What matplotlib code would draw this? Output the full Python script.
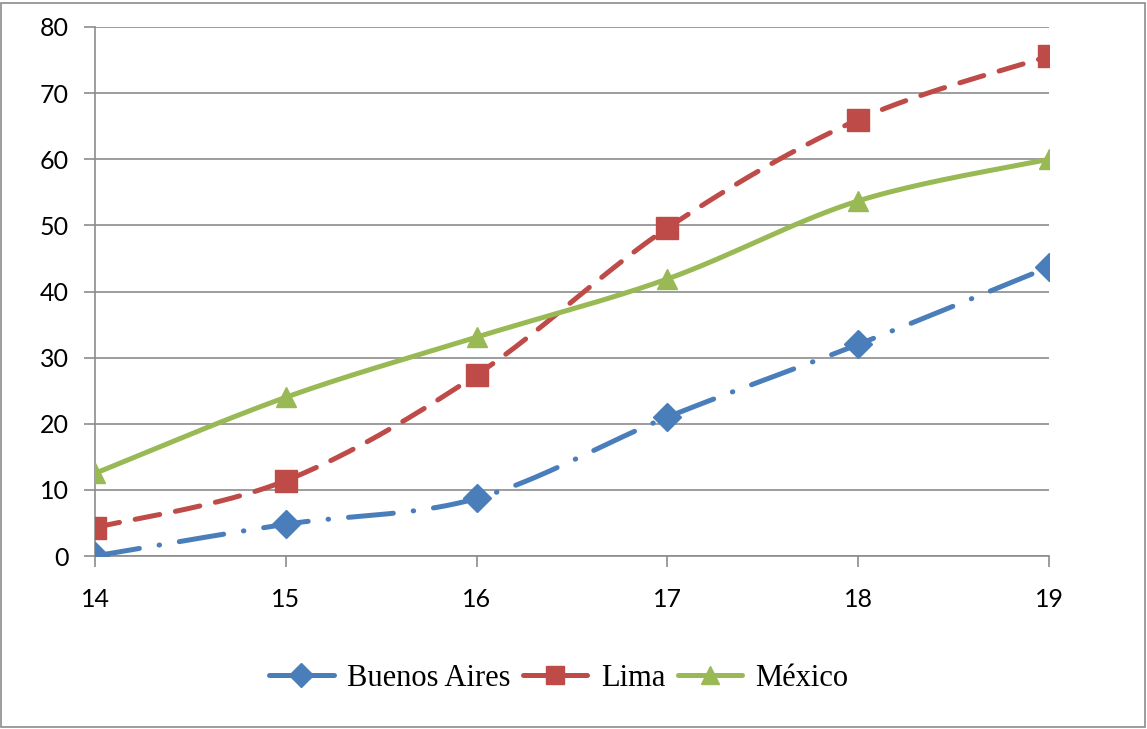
import matplotlib
matplotlib.use("Agg")
import matplotlib.pyplot as plt
import numpy as np
from matplotlib.patches import Rectangle

edades = [14, 15, 16, 17, 18, 19]
buenos_aires = [0.0, 4.8, 8.7, 21.0, 32.0, 43.7]
lima = [4.3, 11.4, 27.4, 49.6, 66.0, 75.6]
mexico = [12.5, 24.0, 33.1, 41.9, 53.7, 60.0]

yticks = [0, 10, 20, 30, 40, 50, 60, 70, 80]


def suavizar(x, y, n=40):
    # curva tipo Bezier (Catmull-Rom) que pasa por los puntos
    x = np.asarray(x, float)
    y = np.asarray(y, float)
    px = np.concatenate([[x[0]], x, [x[-1]]])
    py = np.concatenate([[y[0]], y, [y[-1]]])
    xs, ys = [], []
    t = np.linspace(0, 1, n)
    for i in range(1, len(px) - 2):
        p0 = np.array([px[i], py[i]])
        p3 = np.array([px[i + 1], py[i + 1]])
        c1 = p0 + (p3 - np.array([px[i - 1], py[i - 1]])) / 6
        c2 = p3 - (np.array([px[i + 2], py[i + 2]]) - p0) / 6
        b = (np.outer((1 - t) ** 3, p0) + np.outer(3 * (1 - t) ** 2 * t, c1)
             + np.outer(3 * (1 - t) * t ** 2, c2) + np.outer(t ** 3, p3))
        if i > 1:
            b = b[1:]
        xs.extend(b[:, 0])
        ys.extend(b[:, 1])
    return xs, ys


fig = plt.figure(figsize=(11.47, 7.29), dpi=100)
ax = fig.add_axes([95 / 1147, 1 - 556 / 729, (1049 - 95) / 1147, (556 - 27) / 729])

fig.patches.append(Rectangle((1 / 1147, 2 / 729), 1144 / 1147, 724 / 729,
                             transform=fig.transFigure, fill=False,
                             edgecolor="#8c8c8c", linewidth=1.2))

series = [
    ("Buenos Aires", buenos_aires, "#4a7ebb", "D", 14, (0, (9, 4, 0.1, 4))),
    ("Lima", lima, "#be4b48", "s", 15.5, (0, (5, 3.2))),
    ("México", mexico, "#98b954", "^", 15, "-"),
]

for nombre, valores, color, marca, tam, estilo in series:
    sx, sy = suavizar(edades, valores)
    ax.plot(sx, sy, color=color, linewidth=3.6, linestyle=estilo,
            solid_capstyle="round", dash_capstyle="round", zorder=3)
    ax.plot(edades, valores, linestyle="none", marker=marca, markersize=tam,
            color=color, zorder=4)

# entradas de la leyenda: línea con la marca en el centro
handles = []
for nombre, valores, color, marca, tam, estilo in series:
    h, = ax.plot([], [], color=color, linewidth=3.6, linestyle="-",
                 solid_capstyle="round", marker=marca, markersize=tam * 0.85)
    handles.append(h)

ax.set_xlim(14, 19)
ax.set_ylim(0, 80)
ax.set_xticks(edades)
ax.set_yticks(yticks)
ax.grid(axis="y", color="#8c8c8c", linewidth=1.2)
ax.set_axisbelow(True)
for lado in ["top", "right"]:
    ax.spines[lado].set_visible(False)
for lado in ["left", "bottom"]:
    ax.spines[lado].set_color("#8c8c8c")
    ax.spines[lado].set_linewidth(1.2)
ax.tick_params(axis="y", length=8, width=1.2, color="#8c8c8c", pad=11,
               labelsize=18, labelcolor="black")
ax.tick_params(axis="x", length=8, width=1.2, color="#8c8c8c", pad=15,
               labelsize=18, labelcolor="black")
for lab in ax.get_xticklabels() + ax.get_yticklabels():
    lab.set_fontfamily("Lato")

leg = fig.legend(handles=handles, labels=[s[0] for s in series],
                 loc="center", bbox_to_anchor=(559 / 1147, 1 - 678 / 729),
                 ncol=3, frameon=False, handlelength=2.1, handletextpad=0.45,
                 columnspacing=0.4, prop={"family": "Liberation Serif", "size": 22})

fig.savefig("out.png", dpi=100)
